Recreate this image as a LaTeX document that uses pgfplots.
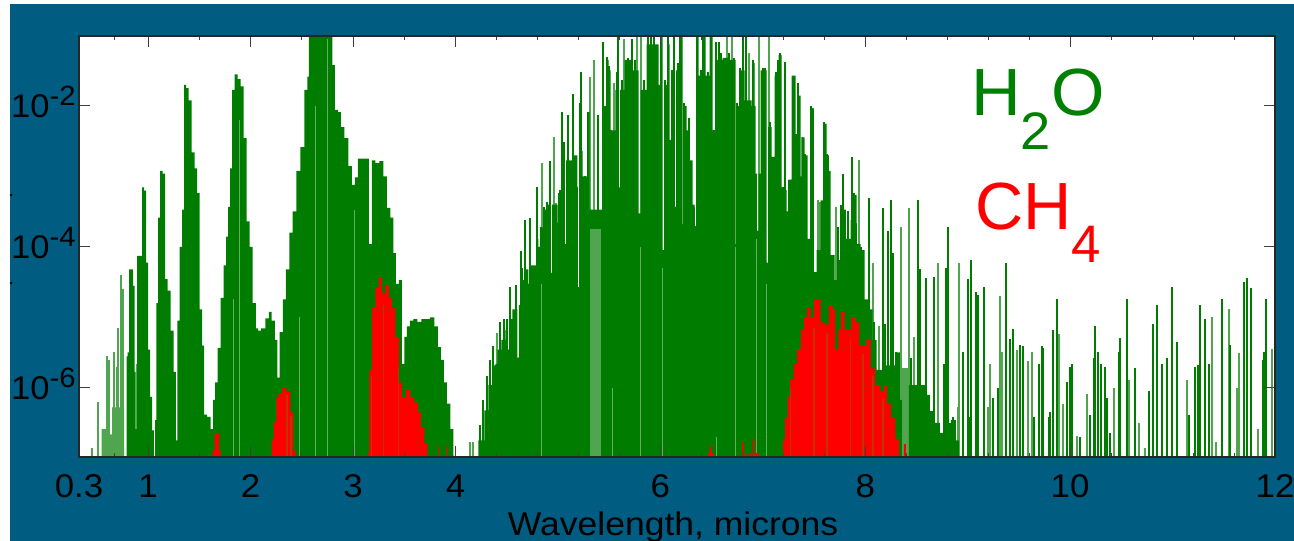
\documentclass[border=0pt]{standalone}
\usepackage{pgfplots}
\pgfplotsset{compat=1.18}
\usepackage{fontspec}
\setmainfont{Liberation Sans}
\definecolor{bgblue}{HTML}{005C80}
\definecolor{dkgreen}{HTML}{007D00}
\definecolor{ltgreen}{HTML}{4FA64F}
\definecolor{pale}{HTML}{5FB05F}
\definecolor{dkred}{HTML}{C43200}
\begin{document}
\begin{tikzpicture}[x=1bp,y=1bp]
\path[use as bounding box] (0,0) rectangle (1294,541);
\fill[white] (0,0) rectangle (1294,541);
\fill[bgblue] (10,0) rectangle (1294,537);
\fill[black] (11,346) circle (1.3);
\fill[black] (11,258) circle (1.3);
\begin{axis}[
  at={(79bp,84bp)},anchor=south west,scale only axis,
  width=1196bp,height=421bp,
  xmin=0.325,xmax=12,ymode=log,ymin=1.05e-7,ymax=9.84e-2,
  log origin y=infty,
  axis background/.style={fill=white},
  axis on top,
  axis line style={line width=1.3bp,draw=black!85},
  tick align=inside,tick pos=both,
  major tick length=11bp,minor tick length=4.5bp,
  every tick/.style={draw=black!75,line width=1bp},
  xtick={0.325,1,2,3,4,6,8,10,12},
  xticklabels={0.3,1,2,3,4,6,8,10,12},
  minor xtick={0.67,1.5,2.5,3.5,4.4,4.8,5.2,5.6,6.4,6.8,7.2,7.6,8.4,8.8,9.2,9.6,10.4,10.8,11.2,11.6},
  ytick={1e-6,1e-4,1e-2},
  yticklabels={10\smash{\raisebox{12bp}{\fontsize{28}{30}\selectfont -6}},10\smash{\raisebox{12bp}{\fontsize{28}{30}\selectfont -4}},10\smash{\raisebox{12bp}{\fontsize{28}{30}\selectfont -2}}},
  minor ytick={},
  xticklabel style={font=\fontsize{33}{36}\selectfont,xscale=1.06,text=black,anchor=base,yshift=-40bp,inner sep=0pt},
  yticklabel style={font=\fontsize{33}{36}\selectfont,xscale=1.05,text=black,anchor=east,inner sep=0pt,xshift=-3bp},
  xlabel={Wavelength, microns},
  xlabel style={font=\fontsize{33}{36}\selectfont,xscale=1.08,text=black,at={(axis description cs:0.4967,-0.1876)},anchor=base,inner sep=0pt},
]
% H2O, pale band and pale lines
\addplot[const plot mark mid,fill=ltgreen,draw=none] coordinates {
(0.541,1e-7)(0.551,2.6e-7)(0.639,2.2e-7)(0.658,5.3e-7)(0.756,5.3e-7)(0.775,1e-7)} \closedcycle;
\addplot[ycomb,ltgreen,line width=2bp] coordinates {
(0.453,1.4e-7)(0.512,6.3e-7)(0.599,2.8e-6)(0.619,2.5e-6)(0.668,3.2e-6)(0.697,2e-6)(0.707,7e-6)(0.736,4e-5)(0.756,2.5e-5)(0.893,2.2e-6)
(4.146,1.7e-7)(4.175,1.7e-7)
(4.410,6e-6)(4.849,1.55e-3)(4.957,3.6e-3)(4.986,4.2e-4)(5.309,2.6e-2)(5.357,4.5e-2)(5.543,2.1e-2)(5.641,9e-2)(5.768,2e-1)(5.807,2e-1)(6.491,2e-1)(6.647,2e-1)(6.696,2e-1)(6.862,5.6e-2)(6.911,4.1e-2)(6.960,2e-1)(7.057,2e-1)(7.380,3.6e-3)(7.536,4.6e-4)(7.556,4.4e-4)(7.712,3.7e-4)(7.937,1.7e-3)(8.073,6e-5)(8.132,7.5e-6)(8.347,1.9e-4)(8.425,3.6e-4)(8.474,5.3e-6)(8.709,6e-5)(8.904,5.3e-7)(8.914,6e-5)
(9.197,5.3e-7)(9.216,2.2e-6)(9.314,2e-5)(9.334,3.2e-6)(9.480,3.5e-6)(9.588,2.4e-6)(9.627,3.2e-6)(9.891,5.9e-6)(9.930,6e-7)(10.067,2.1e-7)(10.164,8.2e-7)(10.428,1e-6)(10.575,1.3e-6)(10.672,3.2e-7)(10.731,1.4e-7)(11.141,1.3e-6)(11.385,1e-5)(11.424,1.7e-7)(11.551,1.3e-5)(11.629,1e-6)(11.649,3.1e-6)(11.835,2.6e-7)(11.971,3.6e-6)};
% H2O, stepped bands up to 4 microns
\addplot[const plot mark mid,fill=dkgreen,draw=none] coordinates {
(0.785,1e-7)(0.795,2.8e-6)(0.805,3.2e-6)(0.824,4.8e-5)(0.844,4.8e-5)(0.863,2.8e-5)(0.873,1.7e-6)(0.883,2.6e-7)(0.902,7.5e-5)(0.932,7.5e-5)(0.951,7e-4)(0.971,6.3e-4)(0.990,6e-5)(1.010,3.5e-6)(1.029,7.5e-7)(1.049,2.5e-7)(1.064,1e-7)(1.073,3.5e-7)(1.088,1.6e-5)(1.107,2.6e-4)(1.127,1.2e-3)(1.156,1.1e-3)(1.176,3.5e-5)(1.205,2.4e-5)(1.234,6.5e-6)(1.264,1.7e-6)(1.278,1.8e-7)(1.293,9e-6)(1.322,1e-4)(1.342,3.4e-4)(1.361,2e-2)(1.381,1.8e-2)(1.410,1.2e-2)(1.440,2.2e-3)(1.469,1.3e-3)(1.489,5.8e-4)(1.518,1.3e-5)(1.537,4e-6)(1.557,4.2e-7)(1.596,3.9e-7)(1.625,2.6e-7)(1.645,6.8e-7)(1.664,1.2e-6)(1.694,3.7e-6)(1.723,1.9e-5)(1.752,5.5e-5)(1.772,1.4e-4)(1.791,3.7e-4)(1.811,1.3e-3)(1.830,1.7e-2)(1.860,2.8e-2)(1.889,2.4e-2)(1.918,1.9e-2)(1.948,3.5e-3)(1.977,2.3e-4)(2.006,1e-4)(2.036,1.6e-5)(2.065,7e-6)(2.084,6.5e-6)(2.124,7e-6)(2.163,9.7e-6)(2.192,1.2e-5)(2.221,9e-6)(2.251,4.8e-6)(2.270,1.4e-6)(2.299,6.2e-6)(2.329,1.8e-5)(2.358,4.8e-5)(2.397,1.6e-4)(2.426,3.2e-4)(2.466,1.2e-3)(2.505,2.6e-3)(2.544,1.7e-2)(2.563,2.6e-2)(2.573,2e-1)(2.788,2e-1)(2.807,3.8e-2)(2.837,8.8e-3)(2.866,8.2e-3)(2.895,5e-3)(2.934,3.5e-3)(2.974,1.4e-3)(3.003,7.6e-4)(3.032,9.7e-4)(3.061,1.8e-3)(3.101,1.8e-3)(3.140,1.8e-3)(3.169,1.1e-4)(3.198,1.7e-3)(3.237,1.55e-3)(3.276,1.65e-3)(3.315,1e-3)(3.345,3.6e-4)(3.384,2.6e-4)(3.403,8.2e-5)(3.433,3e-5)(3.462,3.4e-5)(3.491,2.2e-6)(3.511,5.3e-6)(3.540,7.5e-6)(3.569,9e-6)(3.609,9.5e-6)(3.648,8.7e-6)(3.687,9.5e-6)(3.726,9.5e-6)(3.775,1e-5)(3.814,7.5e-6)(3.843,3.8e-6)(3.872,2.5e-6)(3.902,1.2e-6)(3.931,6e-7)(3.970,2.6e-7)(3.990,1e-7)} \closedcycle;
% H2O, solid part under the lines from 4.2 to 9 microns, with its narrow dips
\addplot[const plot,fill=dkgreen,draw=none] coordinates {
(4.205,1e-7)(4.224,1.8e-7)(4.283,4.8e-7)(4.322,1.1e-6)(4.361,2.1e-6)(4.390,2.2e-6)(4.410,3.5e-6)(4.449,4.8e-6)(4.488,6.7e-6)(4.507,3.5e-6)(4.522,9.5e-6)(4.556,1.3e-5)(4.605,2.7e-6)(4.620,1.5e-5)(4.634,3.4e-5)(4.673,4.8e-5)(4.712,3e-5)(4.727,5.5e-5)(4.791,1.3e-4)(4.810,1e-4)(4.825,1.9e-4)(4.869,3.4e-4)(4.884,3.5e-6)(4.898,4e-4)(4.928,4.3e-5)(4.942,4e-4)(4.996,2.2e-4)(5.011,6.4e-4)(5.055,2.9e-3)(5.064,1.1e-4)(5.079,1.7e-3)(5.152,2e-3)(5.191,2.7e-5)(5.206,2.3e-3)(5.240,1e-3)(5.289,8.2e-3)(5.309,3.4e-4)(5.436,1e-2)(5.475,4.5e-2)(5.494,3.2e-2)(5.514,4.5e-3)(5.562,1.7e-2)(5.592,7e-4)(5.606,1.7e-2)(5.650,4.5e-2)(5.729,3.2e-2)(5.787,3e-4)(5.807,1.7e-2)(5.865,7.5e-2)(5.982,2e-2)(6.002,2e-1)(6.022,9e-5)(6.037,2e-2)(6.080,7.5e-2)(6.090,3.3e-3)(6.104,3.2e-2)(6.139,3.7e-4)(6.153,3.2e-2)(6.198,2e-1)(6.217,2.1e-4)(6.232,1e-2)(6.256,4.5e-3)(6.285,1.7e-3)(6.315,4e-4)(6.334,2e-4)(6.349,2e-1)(6.374,2.7e-2)(6.413,2e-1)(6.442,2.7e-2)(6.481,2e-1)(6.510,4.5e-3)(6.539,4.5e-2)(6.608,4.8e-2)(6.667,7.5e-3)(6.681,4.5e-2)(6.735,1.1e-4)(6.750,1e-2)(6.784,3.2e-2)(6.823,1.2e-2)(6.891,1e-2)(6.930,1.1e-3)(6.945,1.7e-4)(6.960,1.1e-3)(6.979,3.2e-2)(7.037,6e-5)(7.052,5e-3)(7.086,1.9e-3)(7.116,2.7e-2)(7.155,5.3e-2)(7.184,7e-4)(7.223,6.4e-4)(7.233,3.2e-4)(7.253,9e-4)(7.282,2.7e-2)(7.321,4e-3)(7.351,1.4e-2)(7.370,1e-3)(7.385,3.6e-3)(7.409,2e-3)(7.438,1.3e-4)(7.468,9.3e-3)(7.497,4.4e-5)(7.526,9e-5)(7.565,4.6e-4)(7.595,5.6e-3)(7.624,2e-3)(7.644,1.2e-3)(7.663,7.7e-5)(7.702,3.4e-5)(7.741,6.5e-5)(7.780,3.4e-4)(7.810,1.3e-4)(7.858,2.4e-4)(7.888,5.5e-4)(7.917,1.1e-4)(7.956,9e-5)(7.995,1.8e-5)(8.034,1.3e-5)(8.073,4.8e-6)(8.112,1.8e-6)(8.200,2.1e-6)(8.298,3.2e-6)(8.337,6.8e-7)(8.357,1e-7)(8.425,1.1e-6)(8.542,1.1e-6)(8.591,8e-7)(8.630,4.7e-7)(8.679,3.2e-7)(8.728,2.3e-7)(8.787,2.5e-7)(8.836,3.5e-7)(8.884,1.8e-7)(8.914,1e-7)} \closedcycle;
% H2O, dark lines
\addplot[ycomb,dkgreen,line width=2bp] coordinates {
(4.244,3e-7)(4.273,6.8e-7)(4.312,1.5e-6)(4.341,2.5e-6)(4.371,4e-6)(4.439,8.5e-6)(4.478,9.5e-6)(4.507,9.5e-6)(4.537,2.7e-5)(4.586,2.9e-5)(4.625,1.4e-5)(4.644,8.8e-5)(4.654,5e-5)(4.683,2.4e-4)(4.732,2.6e-4)(4.761,5.2e-5)(4.800,7e-4)(4.830,1.9e-4)(4.869,3.7e-4)(4.898,4.4e-4)(4.918,1.65e-3)(5.015,5.8e-4)(5.035,8.2e-3)(5.055,3.1e-3)(5.094,7.5e-3)(5.123,1.55e-3)(5.152,1.5e-2)(5.182,7.2e-4)(5.211,1.1e-2)(5.230,3e-2)(5.260,1e-3)(5.289,8.2e-3)(5.338,3.4e-4)(5.387,7.5e-3)(5.406,3.2e-4)(5.436,8.2e-2)(5.475,5e-2)(5.494,3.7e-2)(5.514,4.5e-3)(5.572,3e-2)(5.582,1e-1)(5.621,2.3e-2)(5.680,4.8e-2)(5.719,9e-2)(5.748,4.5e-2)(5.836,2.3e-2)(5.875,2e-1)(5.904,2e-1)(5.934,2e-1)(5.973,1.7e-2)(6.002,2e-1)(6.041,2.3e-2)(6.071,2e-1)(6.110,3.2e-2)(6.129,2e-1)(6.168,4.1e-2)(6.188,2e-1)(6.227,1.1e-2)(6.246,4.3e-3)(6.276,6.7e-3)(6.295,1.6e-3)(6.325,3.7e-4)(6.354,2e-1)(6.393,3.2e-2)(6.413,2e-1)(6.461,3e-2)(6.520,4.5e-3)(6.539,8e-2)(6.569,8.2e-2)(6.588,5.7e-2)(6.618,4.2e-2)(6.667,5.6e-2)(6.715,4.8e-2)(6.745,1.1e-2)(6.774,3.5e-2)(6.803,2e-1)(6.833,2e-1)(6.901,4.5e-2)(6.999,3.5e-2)(7.018,3.5e-2)(7.067,6e-3)(7.096,1.9e-3)(7.126,3e-2)(7.145,4.5e-2)(7.165,5.6e-2)(7.194,7e-4)(7.214,4.2e-2)(7.243,3e-4)(7.253,9e-4)(7.292,2.7e-2)(7.341,2.1e-2)(7.351,1.3e-2)(7.409,2.1e-3)(7.438,1.1e-4)(7.468,1e-2)(7.487,9e-3)(7.507,4.4e-5)(7.595,6e-3)(7.624,2.1e-3)(7.644,1.2e-3)(7.663,7.2e-5)(7.732,1.9e-4)(7.761,4e-4)(7.780,1.1e-3)(7.790,1.1e-4)(7.829,3.2e-4)(7.868,1.9e-3)(7.888,5.8e-4)(7.907,2.2e-4)(7.956,1e-4)(7.986,1.6e-5)(8.015,1.6e-5)(8.034,5e-4)(8.083,8.5e-6)(8.171,3.6e-4)(8.191,8e-6)(8.220,1.7e-4)(8.249,4.6e-4)(8.269,8.2e-5)(8.298,3.2e-6)(8.445,2.7e-6)(8.513,4.6e-4)(8.533,4.8e-5)(8.591,3.6e-5)(8.669,3.7e-5)(8.767,2.2e-6)(8.787,5e-5)(8.806,1.9e-4)(8.826,3.2e-7)(8.855,3.9e-7)(8.953,3.2e-6)(9.002,3.5e-5)(9.012,3.9e-7)(9.031,6.5e-5)(9.080,2.3e-5)(9.099,2.1e-5)(9.158,2.7e-5)(9.246,7.2e-7)(9.295,1e-6)(9.373,6e-5)(9.412,5e-6)(9.441,6.8e-6)(9.510,4.1e-6)(9.539,4e-6)(9.646,3.9e-7)(9.695,2.2e-6)(9.725,4e-6)(9.734,3.7e-6)(9.793,3.9e-7)(9.803,4.5e-7)(9.832,6.7e-6)(9.871,1.8e-5)(9.969,1.2e-6)(9.998,2e-6)(10.018,2.2e-6)(10.096,2e-7)(10.194,4.2e-7)(10.233,2.7e-6)(10.242,7.5e-6)(10.272,3.2e-6)(10.301,2.2e-6)(10.340,2e-6)(10.360,7.2e-7)(10.389,2.3e-7)(10.477,3.2e-6)(10.487,5.2e-6)(10.555,1.8e-5)(10.633,1.9e-6)(10.770,9e-7)(10.809,8.2e-6)(10.848,1.5e-5)(10.897,2.2e-6)(10.946,2.7e-6)(10.995,2.7e-5)(11.044,4.5e-6)(11.161,4.1e-7)(11.219,2e-6)(11.249,2.1e-6)(11.268,1.5e-5)(11.317,9.5e-6)(11.356,2.2e-6)(11.483,1.8e-5)(11.561,4.1e-6)(11.698,3.2e-5)(11.727,3.6e-5)(11.766,2.6e-5)(11.884,2.5e-6)(11.893,3.2e-6)(11.913,1.8e-5)};
% H2O, paler stripes over the solid part
\addplot[ycomb,pale,line width=1bp] coordinates {
(1.83,1.8e-5)(1.889,6.3e-3)(2.475,1e-5)(2.632,1e-2)(2.749,9e-2)(3.013,3.4e-4)
(4.840,3e-5)(5.533,1e-6)(5.807,1e-4)(6.022,5e-5)(6.549,2e-7)(6.735,1e-4)(6.94,1.3e-4)(7.037,3e-5)};
\addplot[ycomb,ltgreen,line width=2.2bp] coordinates {
(5.328,1.8e-4)(5.348,1.8e-4)(5.367,1.8e-4)(5.387,1.8e-4)(5.406,1.8e-4)(8.367,1.9e-6)(8.386,1.9e-6)(8.406,1.9e-6)};
% CH4
\addplot[const plot mark mid,fill=red,draw=none] coordinates {
(1.625,1e-7)(1.635,1.3e-7)(1.664,2.3e-7)(1.684,2.3e-7)(1.703,1.3e-7)(1.713,1e-7)
(2.201,1e-7)(2.211,1.8e-7)(2.241,3.3e-7)(2.260,7.5e-7)(2.290,8.5e-7)(2.329,1e-6)(2.368,9e-7)(2.407,4.5e-7)(2.426,1.3e-7)(2.446,1e-7)
(3.140,1e-7)(3.149,1.2e-7)(3.169,1.8e-6)(3.198,1.4e-5)(3.237,2.7e-5)(3.267,3.7e-5)(3.296,2.2e-5)(3.335,2.9e-5)(3.364,1.9e-5)(3.394,1.4e-5)(3.433,5.3e-6)(3.462,1.2e-6)(3.491,7.5e-7)(3.540,9.5e-7)(3.579,7.2e-7)(3.618,6.2e-7)(3.648,4.5e-7)(3.677,2.7e-7)(3.716,1.6e-7)(3.736,1e-7)
(3.824,1e-7)(3.833,1.5e-7)(3.843,1e-7)(3.911,1e-7)(3.921,1.5e-7)(3.931,1e-7)(3.970,1e-7)(3.980,1.1e-7)(3.990,1e-7)
(6.461,1e-7)(6.471,1.2e-7)(6.491,1.5e-7)(6.510,1.2e-7)(6.530,1e-7)
(6.794,1e-7)(6.803,1.7e-7)(6.823,1e-7)(6.833,1.2e-7)(6.852,1e-7)(6.882,1.2e-7)(6.901,1e-7)(6.911,1.9e-7)(6.930,1.2e-7)(6.950,1.2e-7)(6.969,1e-7)
(7.194,1e-7)(7.204,1.8e-7)(7.233,3.8e-7)(7.253,7.5e-7)(7.282,1.3e-6)(7.321,2.2e-6)(7.351,3.5e-6)(7.390,6.7e-6)(7.419,1e-5)(7.448,1.4e-5)(7.487,1e-5)(7.517,1.8e-5)(7.546,1.8e-5)(7.585,8.5e-6)(7.624,8e-6)(7.673,1.5e-5)(7.692,1.3e-5)(7.722,3.5e-6)(7.751,6.7e-6)(7.780,1.2e-5)(7.819,6.7e-6)(7.849,6.7e-6)(7.878,1e-5)(7.927,8.5e-6)(7.956,4e-6)(7.986,4e-6)(8.034,4.8e-6)(8.073,1.9e-6)(8.122,1.1e-6)(8.171,9e-7)(8.191,1.1e-6)(8.230,6e-7)(8.269,3.8e-7)(8.318,1.9e-7)(8.337,1e-7)(8.366,1e-7)(8.386,1.6e-7)(8.406,1e-7)} \closedcycle;
\addplot[ycomb,dkred,line width=1.6bp] coordinates {
(2.358,8e-7)(2.397,4e-7)(3.179,1.5e-6)(3.296,1.5e-5)(3.442,2e-6)
(7.272,1e-6)(7.497,7e-6)(7.624,6e-6)(7.858,5e-6)(7.976,3e-6)(8.073,1.5e-6)(8.171,7e-7)};
\end{axis}
\node[anchor=base west,inner sep=0pt,text=green!50!black,xscale=1.03,font=\fontsize{67}{70}\selectfont] at (971,425) {H\raisebox{-34bp}{\fontsize{53}{56}\selectfont 2}O};
\node[anchor=base west,inner sep=0pt,text=red,font=\fontsize{67}{70}\selectfont] at (975,311) {CH\raisebox{-33bp}{\fontsize{53}{56}\selectfont 4}};
\end{tikzpicture}
\end{document}
